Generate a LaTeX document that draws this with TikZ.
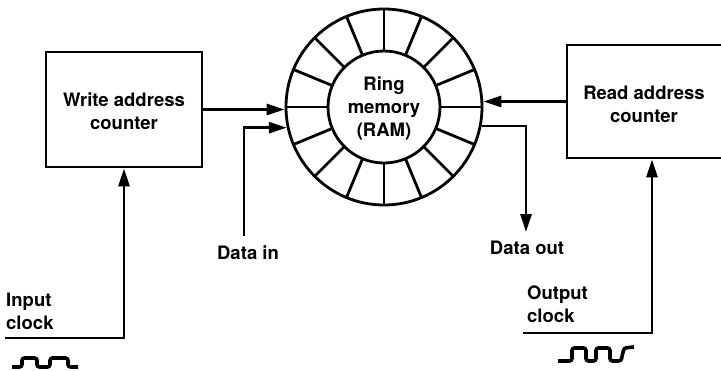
\documentclass[tikz,border=0pt]{standalone}
\usepackage{fontspec}
\setmainfont{TeX Gyre Heros}
\usetikzlibrary{arrows.meta}
\begin{document}
\begin{tikzpicture}[x=1pt,y=-1pt,
  every node/.style={font=\fontsize{18.5}{23}\bfseries\selectfont},
  ln/.style={line width=2.8pt},
  arr/.style={ln,-{Triangle[length=18pt,width=11pt]}},
  blk/.style={draw,ln,rectangle,inner sep=0pt},
  txt/.style={inner sep=0pt,align=center},
  wave/.style={line width=3.6pt,rounded corners=2.5pt}]
\useasboundingbox (0,0) rectangle (721,370);
\clip (0,0) rectangle (721,370);
% blocks
\node[blk,minimum width=156pt,minimum height=115pt] (wbox) at (124,109.5) {};
\node[txt] (wtext) at (124,111.5) {Write address\\counter};
\node[blk,minimum width=170pt,minimum height=113pt] (rbox) at (652,101.5) {};
\node[txt] (rtext) at (644,104) {Read address\\counter};
% ring memory
\node[draw,ln,circle,minimum size=196pt,inner sep=0pt] (ring) at (384,107) {};
\node[draw,ln,circle,minimum size=112pt,inner sep=0pt,align=center] (core) at (384,107) {};
\node[txt] (ctext) at (384,108) {Ring\\memory\\(RAM)};
\foreach \a in {0,22.5,...,337.5}
  \draw[ln] ([shift={(\a:56)}]ring.center) -- ([shift={(\a:98)}]ring.center);
% labels
\node[txt] (din) at (248,253) {Data in};
\node[txt] (dout) at (527,248) {Data out};
\node[txt,align=left,anchor=west] (inlab) at (6,311) {Input\\clock};
\node[txt,align=left,anchor=west] (outlab) at (527,304.5) {Output\\clock};
% coordinates
\coordinate (dinstart) at (244,236);
\coordinate (doutend) at (526,232);
\coordinate (inclk) at (5,338);
\coordinate (outclk) at (523,333);
% connectors
\draw[arr] (wbox.east) -- (wbox.east -| ring.west);
\draw[arr] (dinstart) |- (ring.192.5);
\draw[arr] (rbox.west) -- (rbox.west -| ring.east);
\draw[arr] (ring.-11.2) -| (doutend);
\draw[arr] (inclk) -| (wbox.south);
\draw[arr] (outclk) -| (rbox.south);
% clock waveforms
\draw[wave] (12,367) -- (22,367) -- (22,358) -- (37,358) -- (37,367) -- (50,367) -- (50,358) -- (68,358) -- (68,367) -- (78,367);
\draw[wave] (558,361) -- (572,361) -- (572,348) -- (586,348) -- (586,361) -- (596,361) -- (596,348) -- (610,348) -- (610,361) -- (621,361) -- (624,348) -- (634,347);
\end{tikzpicture}
\end{document}
